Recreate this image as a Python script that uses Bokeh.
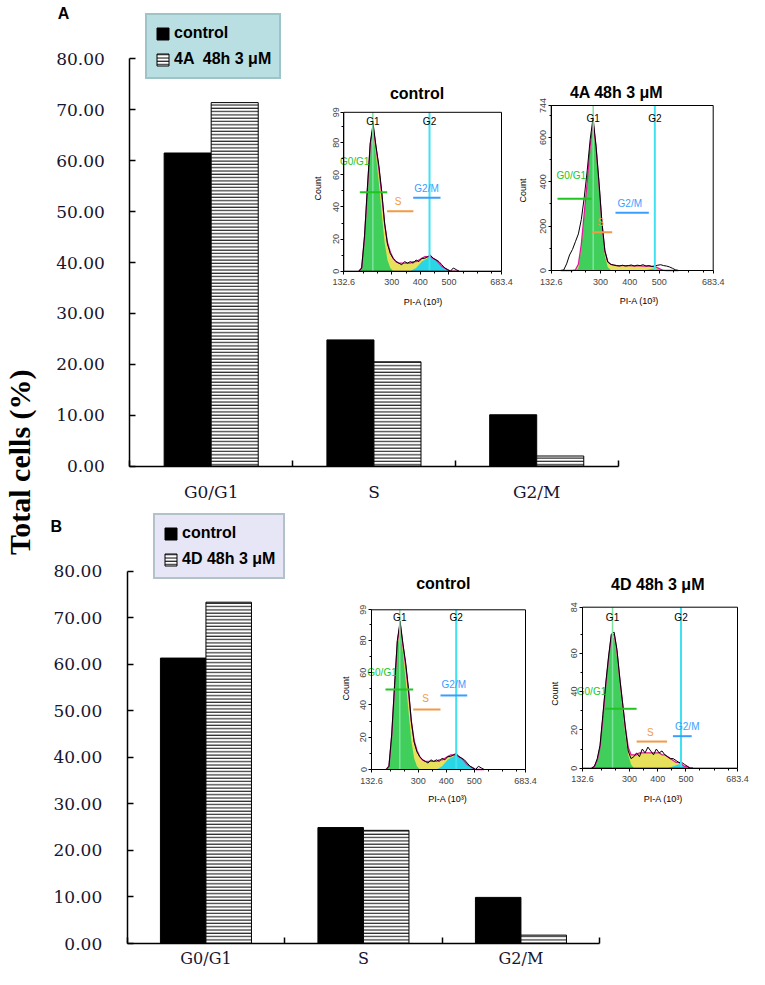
import math
from bokeh.plotting import figure
from bokeh.models import Range1d, LinearAxis, FixedTicker, NumeralTickFormatter, Legend, LegendItem
from bokeh.core.properties import value
from bokeh.embed import file_html
from bokeh.resources import INLINE

# ---------------- data ----------------
categories = ["G0/G1", "S", "G2/M"]
cat_pos = [1.0, 2.0, 3.0]
cat_edges = [0.5, 1.5, 2.5, 3.5]
a_control = [61.5, 24.8, 10.1]
a_treated = [71.4, 20.5, 2.0]
b_control = [61.3, 24.9, 9.9]
b_treated = [73.3, 24.3, 1.8]
bar_ticks = [0, 10, 20, 30, 40, 50, 60, 70, 80]
a_labels = ["control", "4A  48h 3 \u03bcM"]
b_labels = ["control", "4D 48h 3 \u03bcM"]

pi_xlim = [132.6, 683.4]
pi_xticks = [132.6, 300, 400, 500, 683.4]
pi_xminor = [200, 250, 350, 450, 550, 600, 650]

# control histogram (DNA content, 10^3)
ctrl_x = [185, 195, 205, 215, 225, 235, 245, 255, 265, 275, 285, 295, 305, 315, 325, 335, 345, 355,
          365, 375, 385, 395, 405, 415, 425, 435, 445, 455, 465, 475, 485, 495, 505, 515, 525, 535]
ctrl_raw = [0, 2, 22, 52, 80, 92, 78, 66, 50, 30, 17, 11, 8, 6, 5, 4, 6, 5,
            6, 5, 7, 6, 8, 8, 9, 10, 8, 7, 6, 4, 2, 1, 0, 2, 1, 0]
ctrl_fit = [0, 2, 21, 51, 79, 90, 77, 64, 48, 30, 18, 12, 8, 6, 5, 5, 5, 5,
            5, 6, 6, 7, 8, 9, 9, 9, 8, 7, 5, 3, 2, 1, 0, 0, 0, 0]
ctrl_g1 = [0, 2, 19, 48, 76, 86, 72, 55, 36, 18, 7, 2, 0, 0, 0, 0, 0, 0,
           0, 0, 0, 0, 0, 0, 0, 0, 0, 0, 0, 0, 0, 0, 0, 0, 0, 0]
ctrl_g2 = [0, 0, 0, 0, 0, 0, 0, 0, 0, 0, 0, 0, 0, 0, 0, 0, 0, 0,
           0, 1, 2, 4, 6, 7, 8, 9, 8, 7, 5, 3, 2, 1, 0, 0, 0, 0]
ctrl_yticks = [0, 20, 40, 60, 80, 99]
ctrl_yminor = [10, 30, 50, 70, 90]

# 4A histogram
t4a_x = [165, 175, 185, 195, 205, 215, 225, 235, 245, 255, 265, 275, 285, 295, 305, 315, 325, 335, 345, 355, 365,
         375, 385, 395, 405, 415, 425, 435, 445, 455, 465, 475, 485, 495, 505, 515, 525, 535, 545, 555, 565]
t4a_raw = [0, 2, 30, 70, 95, 130, 165, 230, 330, 450, 590, 690, 560, 400, 220, 90, 38, 28, 25, 22, 20,
           24, 20, 22, 25, 20, 24, 22, 26, 20, 22, 18, 20, 24, 26, 22, 20, 16, 10, 3, 0]
t4a_fit = [0, 0, 0, 0, 0, 3, 28, 118, 258, 398, 560, 662, 562, 392, 212, 88, 40, 28, 24, 22, 22,
           22, 22, 22, 21, 21, 21, 21, 20, 20, 20, 19, 18, 12, 5, 1, 0, 0, 0, 0, 0]
t4a_g1 = [0, 0, 0, 0, 0, 0, 10, 100, 240, 380, 540, 640, 540, 370, 190, 65, 15, 2, 0, 0, 0,
          0, 0, 0, 0, 0, 0, 0, 0, 0, 0, 0, 0, 0, 0, 0, 0, 0, 0, 0, 0]
t4a_g2 = [0, 0, 0, 0, 0, 0, 0, 0, 0, 0, 0, 0, 0, 0, 0, 0, 0, 0, 0, 0, 0,
          0, 0, 0, 0, 0, 0, 0, 0, 2, 5, 8, 9, 7, 3, 1, 0, 0, 0, 0, 0]
t4a_yticks = [0, 200, 400, 600, 744]
t4a_yminor = [100, 300, 500, 700]

# 4D histogram
t4d_x = [165, 175, 185, 195, 205, 215, 225, 235, 245, 255, 265, 275, 285, 295, 305, 315, 325, 335, 345,
         355, 365, 375, 385, 395, 405, 415, 425, 435, 445, 455, 465, 475, 485, 495, 505, 515, 525]
t4d_raw = [0, 1, 5, 12, 28, 44, 58, 70, 71, 62, 47, 34, 21, 9, 5, 6, 8, 6, 10,
           8, 11, 9, 7, 10, 8, 9, 7, 6, 5, 5, 4, 3, 3, 2, 1, 0, 0]
t4d_fit = [0, 1, 4, 11, 26, 43, 57, 69, 70, 61, 47, 34, 21, 11, 7, 7, 7, 8, 8,
           8, 8, 8, 8, 8, 8, 7, 7, 6, 5, 4, 3, 3, 2, 1, 1, 0, 0]
t4d_g1 = [0, 1, 4, 11, 26, 42, 56, 67, 68, 58, 44, 30, 17, 7, 2, 0, 0, 0, 0,
          0, 0, 0, 0, 0, 0, 0, 0, 0, 0, 0, 0, 0, 0, 0, 0, 0, 0]
t4d_g2 = [0, 0, 0, 0, 0, 0, 0, 0, 0, 0, 0, 0, 0, 0, 0, 0, 0, 0, 0,
          0, 0, 0, 0, 0, 0, 0, 0, 0, 0.5, 1, 1.5, 2, 1.5, 1, 0.5, 0, 0]
t4d_yticks = [0, 20, 40, 60, 84]
t4d_yminor = [10, 30, 50, 70]

gate_names = ["G0/G1", "S", "G2/M"]
phase_names = ["G1", "G2"]

# ---------------- layout ----------------
W, H = 749, 969

GREEN = "#3fcf5a"
YELLOW = "#e6e05a"
CYAN = "#2ad6e6"
MAGENTA = "#e0199f"
G1LINE = "#7fe3a0"
G2LINE = "#3fe2f0"
GATE_COLORS = ["#22c422", "#f29a45", "#3a9eff"]
SANS = "Liberation Sans"
SERIF = "DejaVu Serif"


def hrange(lo, hi, a, b):
    k = (hi - lo) / (b - a)
    return Range1d(start=lo - a * k, end=hi + (W - b) * k)


def vrange(lo, hi, bot, top):
    k = (hi - lo) / (bot - top)
    return Range1d(start=lo - (H - bot) * k, end=hi + top * k)


p = figure(width=W, height=H, x_range=Range1d(0, W), y_range=Range1d(H, 0),
           x_axis_type=None, y_axis_type=None, min_border=0,
           toolbar_location=None, output_backend="svg",
           outline_line_color=None, background_fill_color="white",
           border_fill_color="white")

p.extra_x_ranges = {
    "axA": hrange(0.5, 3.5, 129.3, 617.6),
    "axB": hrange(0.5, 3.5, 126.7, 599.2),
    "xA1": hrange(pi_xlim[0], pi_xlim[1], 343.3, 501.0),
    "xA2": hrange(pi_xlim[0], pi_xlim[1], 550.7, 712.7),
    "xB1": hrange(pi_xlim[0], pi_xlim[1], 371.0, 525.0),
    "xB2": hrange(pi_xlim[0], pi_xlim[1], 582.0, 737.0),
}
p.extra_y_ranges = {
    "ayA": vrange(0, 80, 465.7, 58.3),
    "ayB": vrange(0, 80, 943.0, 570.5),
    "yA1": vrange(0, ctrl_yticks[-1], 270.7, 111.8),
    "yA2": vrange(0, t4a_yticks[-1], 270.0, 105.0),
    "yB1": vrange(0, ctrl_yticks[-1], 769.0, 609.3),
    "yB2": vrange(0, t4d_yticks[-1], 767.7, 606.7),
}

BW = 0.289


def bar_panel(xn, yn, ctrl, treat, labels, leg_loc, leg_fill, leg_border, xstand, xfs):
    kw = dict(x_range_name=xn, y_range_name=yn)
    bx = [c - BW / 2 for c in cat_pos]
    hx = [c + BW / 2 for c in cat_pos]
    r1 = p.vbar(x=bx, width=BW, top=ctrl, bottom=0, fill_color="black",
                line_color="black", line_width=1, **kw)
    r2 = p.vbar(x=hx, width=BW, top=treat, bottom=0, fill_color="white",
                line_color="black", line_width=1, hatch_pattern="-",
                hatch_color="black", hatch_scale=3.3, hatch_weight=1, **kw)
    yax = LinearAxis(fixed_location=0.5, bounds=(0, 80),
                     ticker=FixedTicker(ticks=bar_ticks),
                     formatter=NumeralTickFormatter(format="0.00"),
                     major_tick_in=6, major_tick_out=0,
                     major_tick_line_width=1.5, axis_line_width=1.5,
                     minor_tick_line_color=None,
                     major_label_text_font=SERIF, major_label_text_font_size="17px",
                     major_label_text_color="#161630",
                     major_label_standoff=25, **kw)
    p.add_layout(yax, "left")
    xax = LinearAxis(fixed_location=0, bounds=(cat_edges[0], cat_edges[-1]),
                     ticker=FixedTicker(ticks=cat_pos, minor_ticks=cat_edges),
                     major_label_overrides={c: t for c, t in zip(cat_pos, categories)},
                     major_tick_in=0, major_tick_out=0,
                     minor_tick_in=6, minor_tick_out=0, minor_tick_line_width=1.5,
                     axis_line_width=1.5,
                     major_label_text_font=SERIF, major_label_text_font_size=xfs,
                     major_label_text_color="#161630",
                     major_label_standoff=xstand, **kw)
    p.add_layout(xax, "below")
    leg = Legend(items=[LegendItem(label=labels[0], renderers=[r1]),
                        LegendItem(label=labels[1], renderers=[r2])],
                 location=leg_loc, margin=0, padding=8, spacing=6,
                 glyph_width=15, glyph_height=15, label_standoff=4,
                 label_height=20,
                 label_text_font=SANS, label_text_font_style="bold",
                 label_text_font_size="16px", label_text_color="black",
                 background_fill_color=leg_fill, background_fill_alpha=1,
                 border_line_color=leg_border, border_line_width=2)
    p.add_layout(leg)


bar_panel("axA", "ayA", a_control, a_treated, a_labels, (145, H - 79), "#b9dfe3", "#86a9ac", 16, "17px")
bar_panel("axB", "ayB", b_control, b_treated, b_labels, (153, H - 579), "#e6e6f6", "#809e9e", 5, "16px")


def inset(xn, yn, xs, raw, fit, g1, g2, yticks, yminor, g1pos, g2pos, phase_y,
          gx0, gx1, gy, lx, ly):
    kw = dict(x_range_name=xn, y_range_name=yn)
    ymax = yticks[-1]
    p.varea(x=xs, y1=0, y2=fit, fill_color=YELLOW, **kw)
    p.varea(x=xs, y1=0, y2=g1, fill_color=GREEN, **kw)
    p.varea(x=xs, y1=0, y2=g2, fill_color=CYAN, **kw)
    p.line(xs, fit, line_color=MAGENTA, line_width=1.3, **kw)
    p.line(xs, raw, line_color="black", line_width=1, **kw)
    p.segment(x0=[g1pos, g2pos], x1=[g1pos, g2pos], y0=[0, 0], y1=[ymax, ymax],
              line_color=[G1LINE, G2LINE], line_width=[1.5, 2], **kw)
    p.segment(x0=gx0, x1=gx1, y0=gy, y1=gy, line_color=GATE_COLORS, line_width=2, **kw)
    p.text(x=lx, y=ly, text=gate_names, text_color=GATE_COLORS,
           text_font=value(SANS), text_font_size="10px",
           text_align="center", text_baseline="middle", **kw)
    p.text(x=[g1pos, g2pos], y=[phase_y, phase_y], text=phase_names, text_color="black",
           text_font=value(SANS), text_font_size="10px",
           text_align="center", text_baseline="middle", **kw)
    p.quad(left=[pi_xlim[0]], right=[pi_xlim[1]], bottom=[0], top=[ymax],
           fill_color=None, line_color="black", line_width=1, **kw)
    yax = LinearAxis(fixed_location=pi_xlim[0], bounds=(0, ymax),
                     ticker=FixedTicker(ticks=yticks, minor_ticks=yminor),
                     major_tick_in=0, major_tick_out=3, minor_tick_in=0, minor_tick_out=2,
                     major_label_orientation="vertical",
                     major_label_text_font=SANS, major_label_text_font_size="9px",
                     major_label_standoff=2, axis_line_width=1, **kw)
    p.add_layout(yax, "left")
    xax = LinearAxis(fixed_location=0, bounds=(pi_xlim[0], pi_xlim[1]),
                     ticker=FixedTicker(ticks=pi_xticks, minor_ticks=pi_xminor),
                     formatter=NumeralTickFormatter(format="0[.]0"),
                     major_tick_in=0, major_tick_out=3, minor_tick_in=0, minor_tick_out=2,
                     major_label_text_font=SANS, major_label_text_font_size="9px",
                     major_label_standoff=5, axis_line_width=1, **kw)
    p.add_layout(xax, "below")


inset("xA1", "yA1", ctrl_x, ctrl_raw, ctrl_fit, ctrl_g1, ctrl_g2, ctrl_yticks, ctrl_yminor,
      234, 432, 93.4, [188.5, 283.8, 375.0], [284.0, 375.6, 470.4], [49.2, 37.4, 45.7],
      [170.6, 322.6, 421.5], [68.3, 43.6, 51.7])
inset("xA2", "yA2", t4a_x, t4a_raw, t4a_fit, t4a_g1, t4a_g2, t4a_yticks, t4a_yminor,
      275.4, 484.9, 684, [154.0, 272.0, 351.2], [269.6, 340.0, 464.5], [323, 172.7, 260],
      [200.9, 300.2, 399.9], [428, 217.8, 300.7])
inset("xB1", "yB1", ctrl_x, ctrl_raw, ctrl_fit, ctrl_g1, ctrl_g2, ctrl_yticks, ctrl_yminor,
      233.8, 435.5, 94.4, [182.7, 281.8, 379.4], [281.8, 379.4, 474.9], [49.6, 37.2, 45.9],
      [170.2, 325.7, 426.9], [60, 44.2, 52.5])
inset("xB2", "yB2", t4d_x, t4d_raw, t4d_fit, t4d_g1, t4d_g2, t4d_yticks, t4d_yminor,
      239.3, 482.7, 78.8, [212.7, 324.9, 453.9], [324.9, 433.0, 520.6], [31, 13.9, 16.7],
      [164.6, 373.6, 504.8], [40, 18.8, 21.8])

# ---------------- free texts (page layout) ----------------
p.text(x=[57.3, 50.0], y=[12.5, 525.7], text=["A", "B"], text_font=value(SANS),
       text_font_style="bold", text_font_size="16px", text_color="black",
       text_align="left", text_baseline="middle")
p.text(x=[19], y=[461.7], text=["Total cells (%)"], angle=math.pi / 2,
       text_font=value("Liberation Serif"), text_font_style="bold",
       text_font_size="30px", text_color="black",
       text_align="center", text_baseline="middle")
p.text(x=[416.5, 618.3, 442.8, 659.5], y=[93.3, 91.7, 583.3, 584.3],
       text=["control", "4A  48h 3 \u03bcM", "control", "4D  48h 3 \u03bcM"],
       text_font=value(SANS), text_font_style="bold", text_font_size="16px",
       text_color="black", text_align="center", text_baseline="middle")
p.text(x=[317, 522.7, 345, 554], y=[188, 190, 688, 693.3], text=["Count"] * 4,
       angle=math.pi / 2, text_font=value(SANS), text_font_size="9px",
       text_color="black", text_align="center", text_baseline="middle")
p.text(x=[424, 640, 448.6, 664], y=[301, 300, 798, 798], text=["PI-A  (10\u00b3)"] * 4,
       text_font=value(SANS), text_font_size="9px",
       text_color="black", text_align="center", text_baseline="middle")

open("out.html", "w").write(file_html(p, INLINE))
